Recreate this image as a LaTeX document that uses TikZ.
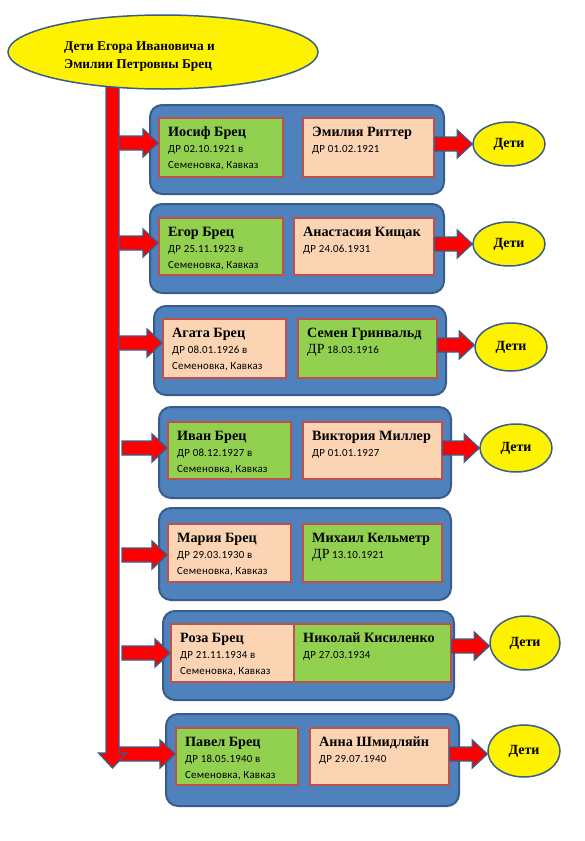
\documentclass[tikz,border=0pt]{standalone}
\usepackage{fontspec}
\setmainfont{Liberation Serif}
\newfontfamily\sansf[LetterSpace=2]{Carlito}
\usetikzlibrary{calc,shapes.geometric}
\definecolor{bgblue}{HTML}{4F81BD}
\definecolor{edgeblue}{HTML}{385D8A}
\definecolor{boxedge}{HTML}{C0504D}
\definecolor{boxgreen}{HTML}{92D050}
\definecolor{boxpeach}{HTML}{FBD4B4}
\newcommand\namefont{\bfseries\fontsize{14.2}{16}\selectfont}
\newcommand\datefont{\sansf\fontsize{10.9}{12}\selectfont}
\newcommand\drserif{{\rmfamily\fontsize{14}{16}\selectfont ДР}}
\newcommand\harrow[2]{\path[blockarrow] let \p1=(#1), \p2=(#2) in
  (\x1,\y1+7pt) -- (\x2-15pt,\y1+7pt) -- (\x2-15pt,\y1+14pt) -- (\x2,\y1)
  -- (\x2-15pt,\y1-14pt) -- (\x2-15pt,\y1-7pt) -- (\x1,\y1-7pt) -- cycle;}
\newcommand\whothree[4]{%
  \node[nametext] (#1n) at ($(#1.north west)+(10,19)$) {#2};
  \node[datetext] (#1d) at ($(#1.north west)+(10,35)$) {#3};
  \node[datetext] (#1p) at ($(#1.north west)+(10,51)$) {#4};}
\newcommand\whotwo[3]{%
  \node[nametext] (#1n) at ($(#1.north west)+(10,19)$) {#2};
  \node[datetext] (#1d) at ($(#1.north west)+(10,35)$) {#3};}
\begin{document}
\begin{tikzpicture}[x=1pt,y=-1pt,
  rowbg/.style={rectangle, draw=edgeblue, fill=bgblue, line width=2pt, rounded corners=12pt, anchor=north west, inner sep=0pt},
  pbox/.style={rectangle, draw=boxedge, line width=1.8pt, anchor=north west, inner sep=0pt},
  gbox/.style={pbox, fill=boxgreen},
  obox/.style={pbox, fill=boxpeach},
  nametext/.style={anchor=base west, inner sep=0pt, font=\namefont},
  datetext/.style={anchor=base west, inner sep=0pt, font=\datefont},
  kids/.style={ellipse, draw=edgeblue, fill=yellow, line width=1.5pt, inner sep=0pt, font=\bfseries\fontsize{14}{15}\selectfont},
  titletext/.style={anchor=base west, inner sep=0pt, font=\bfseries\fontsize{13.4}{16}\selectfont},
  blockarrow/.style={draw=edgeblue, fill=red, line width=1.3pt, line join=miter}]
\useasboundingbox (0,0) rectangle (585,841);

% row backgrounds
\node[rowbg, minimum width=294pt, minimum height=89pt] (bg1) at (149,104) {};
\node[rowbg, minimum width=294pt, minimum height=89pt] (bg2) at (149,203) {};
\node[rowbg, minimum width=292pt, minimum height=89pt] (bg3) at (153,305) {};
\node[rowbg, minimum width=292pt, minimum height=91pt] (bg4) at (158,406) {};
\node[rowbg, minimum width=292pt, minimum height=92pt] (bg5) at (158,507) {};
\node[rowbg, minimum width=291pt, minimum height=89pt] (bg6) at (162,610) {};
\node[rowbg, minimum width=293pt, minimum height=92pt] (bg7) at (165,713) {};

% person boxes
\node[gbox, minimum width=124pt, minimum height=59pt] (A1) at (158,117) {};
\node[obox, minimum width=131pt, minimum height=59pt] (B1) at (302,117) {};
\node[gbox, minimum width=124pt, minimum height=57pt] (A2) at (158,217) {};
\node[obox, minimum width=140pt, minimum height=57pt] (B2) at (293,217) {};
\node[obox, minimum width=123pt, minimum height=59pt] (A3) at (162,318) {};
\node[gbox, minimum width=139pt, minimum height=59pt] (B3) at (297,318) {};
\node[gbox, minimum width=123pt, minimum height=57pt] (A4) at (167,421) {};
\node[obox, minimum width=139pt, minimum height=57pt] (B4) at (302,421) {};
\node[obox, minimum width=123pt, minimum height=58pt] (A5) at (167,523) {};
\node[gbox, minimum width=139pt, minimum height=58pt] (B5) at (302,523) {};
\node[obox, minimum width=123pt, minimum height=58pt] (A6) at (170,623) {};
\node[gbox, minimum width=157pt, minimum height=58pt] (B6) at (293,623) {};
\node[gbox, minimum width=122pt, minimum height=57pt] (A7) at (175,727) {};
\node[obox, minimum width=139pt, minimum height=57pt] (B7) at (309,727) {};

\whothree{A1}{Иосиф Брец}{ДР 02.10.1921 в}{Семеновка, Кавказ}
\whotwo{B1}{Эмилия Риттер}{ДР 01.02.1921}
\whothree{A2}{Егор Брец}{ДР 25.11.1923 в}{Семеновка, Кавказ}
\whotwo{B2}{Анастасия Кищак}{ДР 24.06.1931}
\whothree{A3}{Агата Брец}{ДР 08.01.1926 в}{Семеновка, Кавказ}
\whotwo{B3}{Семен Гринвальд}{\drserif\ 18.03.1916}
\whothree{A4}{Иван Брец}{ДР 08.12.1927 в}{Семеновка, Кавказ}
\whotwo{B4}{Виктория Миллер}{ДР 01.01.1927}
\whothree{A5}{Мария Брец}{ДР 29.03.1930 в}{Семеновка, Кавказ}
\whotwo{B5}{Михаил Кельметр}{\drserif\ 13.10.1921}
\whothree{A6}{Роза Брец}{ДР 21.11.1934 в}{Семеновка, Кавказ}
\whotwo{B6}{Николай Кисиленко}{ДР 27.03.1934}
\whothree{A7}{Павел Брец}{ДР 18.05.1940 в}{Семеновка, Кавказ}
\whotwo{B7}{Анна Шмидляйн}{ДР 29.07.1940}

% children ellipses
\node[kids, minimum width=72pt, minimum height=44pt] (E1) at (509,144) {Дети};
\node[kids, minimum width=72pt, minimum height=44pt] (E2) at (509,244) {Дети};
\node[kids, minimum width=72pt, minimum height=48pt] (E3) at (511,347) {Дети};
\node[kids, minimum width=72pt, minimum height=48pt] (E4) at (516,448) {Дети};
\node[kids, minimum width=70pt, minimum height=54pt] (E6) at (525,643) {Дети};
\node[kids, minimum width=72pt, minimum height=52pt] (E7) at (524,751) {Дети};

% left arrows
\coordinate (L1) at (118,143);
\coordinate (L2) at (118,243);
\coordinate (L3) at (118,343);
\coordinate (L4) at (122,448);
\coordinate (L5) at (122,555);
\coordinate (L6) at (122,653);
\coordinate (L7) at (118,754);
\harrow{L1}{A1.west |- L1}
\harrow{L2}{A2.west |- L2}
\harrow{L3}{A3.west |- L3}
\harrow{L4}{A4.west |- L4}
\harrow{L5}{A5.west |- L5}
\harrow{L6}{A6.west |- L6}
\harrow{L7}{A7.west |- L7}

% right arrows
\coordinate (R1) at (B1.east |- E1);
\coordinate (R2) at (B2.east |- E2);
\coordinate (R3) at (B3.east |- 0,345);
\coordinate (R4) at (B4.east |- E4);
\coordinate (R6) at (B6.east |- 0,646);
\coordinate (R7) at (B7.east |- 0,754);
\harrow{R1}{E1.west |- R1}
\harrow{R2}{E2.west |- R2}
\harrow{R3}{E3.west |- R3}
\harrow{R4}{E4.west |- R4}
\harrow{R6}{E6.west |- R6}
\harrow{R7}{E7.west |- R7}

% main vertical arrow
\coordinate (bartop) at (112.5,86);
\coordinate (barend) at (112.5,768);
\path[blockarrow] let \p1=(bartop), \p2=(barend) in
  (\x1-6.5pt,\y1) -- (\x1-6.5pt,\y2+15pt) -- (\x1-14pt,\y2+15pt) -- (\x2,\y2)
  -- (\x1+14pt,\y2+15pt) -- (\x1+6.5pt,\y2+15pt) -- (\x1+6.5pt,\y1) -- cycle;

% title
\node[ellipse, draw=edgeblue, fill=yellow, line width=1.5pt, minimum width=310pt, minimum height=74pt, inner sep=0pt] (T) at (163,52) {};
\node[titletext] (T1) at (64,50) {Дети Егора Ивановича и};
\node[titletext] (T2) at (64,68) {Эмилии Петровны Брец};
\end{tikzpicture}
\end{document}
